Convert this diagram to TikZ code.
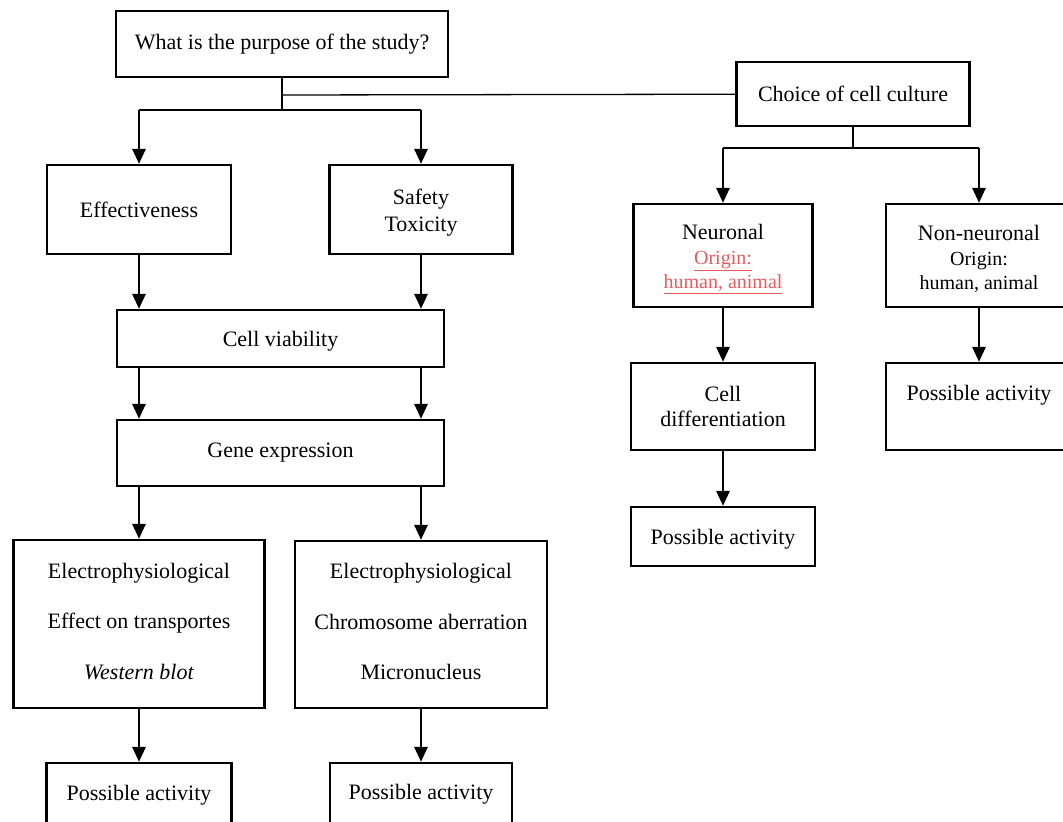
\documentclass[tikz,border=0pt]{standalone}
\usepackage{fontspec}
\setmainfont{Liberation Serif}
\usetikzlibrary{arrows.meta}
\definecolor{originred}{HTML}{E85A5E}
\tikzset{
  box/.style={draw, line width=2.2pt, inner sep=0pt, align=center, font=\fontsize{22}{26}\selectfont},
  lbl/.style={inner sep=0pt, align=center, font=\fontsize{22}{26}\selectfont},
  arr/.style={-{Triangle[width=13pt,length=15pt]}, line width=2.8pt},
  link/.style={line width=1.3pt}
}
\begin{document}
\begin{tikzpicture}[x=1pt,y=-1pt]
            \useasboundingbox (0,0) rectangle (1063,822);

            \node[box, minimum width=332pt, minimum height=66pt] (purpose) at (282,44) {What is the purpose of the study?};
            \node[box, minimum width=233pt, minimum height=64pt] (choice) at (853,94) {Choice of cell culture};
            \node[box, minimum width=184pt, minimum height=89pt] (eff) at (139,209.5) {Effectiveness};
            \node[box, minimum width=183pt, minimum height=89pt, font=\fontsize{22}{27}\selectfont] (safety) at (421,209.5) {\rule{0pt}{21pt}Safety\\Toxicity};
            \node[box, minimum width=327pt, minimum height=57pt] (viab) at (280.5,338.5) {\rule{0pt}{21pt}Cell viability};
            \node[box, minimum width=327pt, minimum height=66pt] (gene) at (280.5,453) {Gene expression};
            \node[box, minimum width=251pt, minimum height=168pt, font=\fontsize{22}{50.5}\selectfont] (elecL) at (139,624) {Electrophysiological\\Effect on transportes\\\textit{Western blot}\rule[-6pt]{0pt}{0pt}};
            \node[box, minimum width=252pt, minimum height=167pt, font=\fontsize{22}{50.5}\selectfont] (elecR) at (421,624.5) {Electrophysiological\\Chromosome aberration\\Micronucleus\rule[-6pt]{0pt}{0pt}};
            \node[box, minimum width=185pt, minimum height=87pt] (possL) at (139,806.5) {};
            \node[lbl] (possLtext) at (139,795) {Possible activity};
            \node[box, minimum width=182pt, minimum height=87pt] (possR) at (421,806.5) {};
            \node[lbl] (possRtext) at (421,794) {Possible activity};

            \node[box, minimum width=179pt, minimum height=103pt] (neur) at (723,255.5) {\rule{0pt}{22pt}Neuronal\\[-1pt]{\fontsize{20}{23}\selectfont\color{originred}\underline{Origin:}}\\[-2pt]{\fontsize{20}{23}\selectfont\color{originred}\underline{human, animal}}};
            \node[box, minimum width=186pt, minimum height=103pt] (nonneur) at (979,255.5) {\rule{0pt}{22pt}Non-neuronal\\[-1pt]{\fontsize{20}{23}\selectfont Origin:}\\[-2pt]{\fontsize{20}{23}\selectfont human, animal}};
            \node[box, minimum width=184pt, minimum height=87pt, font=\fontsize{22}{25}\selectfont] (diff) at (723,406.5) {Cell\\differentiation};
            \node[box, minimum width=184pt, minimum height=59pt] (possM) at (723,536.5) {\rule{0pt}{21pt}Possible activity};
            \node[box, minimum width=186pt, minimum height=87pt] (possNN) at (979,406.5) {};
            \node[lbl] (possNNtext) at (979,395) {Possible activity};

            \coordinate (split) at (282,110);
            \coordinate (tap) at (282,95);
            \coordinate (forkL) at (139,110);
            \coordinate (forkR) at (421,110);
            \coordinate (csplit) at (853,148);
            \coordinate (cforkL) at (723,148);
            \coordinate (cforkR) at (979,148);

            \draw[link] (purpose) -- (split); \draw[link] (forkL) -- (forkR); \draw[link] (tap) -- (choice);
            \draw[link] (choice) -- (csplit); \draw[link] (cforkL) -- (cforkR);
            \draw[arr] (forkL) -- (eff); \draw[arr] (forkR) -- (safety);
            \draw[arr] (cforkL) -- (neur); \draw[arr] (cforkR) -- (nonneur);
            \draw[arr] (eff) -- (eff |- viab.north); \draw[arr] (safety) -- (safety |- viab.north);
            \draw[arr] (viab.south -| eff) -- (gene.north -| eff); \draw[arr] (viab.south -| safety) -- (gene.north -| safety);
            \draw[arr] (gene.south -| elecL) -- (elecL); \draw[arr] (gene.south -| elecR) -- (elecR);
            \draw[arr] (elecL) -- (possL); \draw[arr] (elecR) -- (possR);
            \draw[arr] (neur) -- (diff); \draw[arr] (diff) -- (possM);
            \draw[arr] (nonneur) -- (possNN);
        \end{tikzpicture}
\end{document}
